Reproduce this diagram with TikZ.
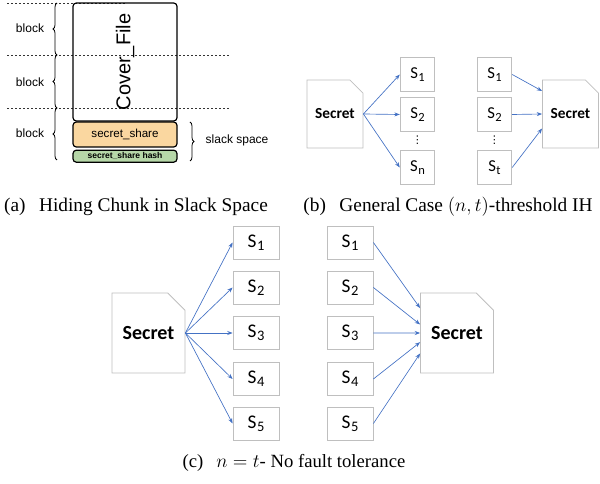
\documentclass[tikz,border=0pt]{standalone}
\usepackage{fontspec}
\setmainfont{Liberation Serif}
\newfontfamily\arialfont{Liberation Sans}
\newfontfamily\calibrifont{Carlito}
\newfontfamily\dotsfont{DejaVu Sans}
\usetikzlibrary{arrows.meta,positioning,shapes.misc,decorations.pathreplacing}
\definecolor{ShareFill}{HTML}{FAD7A0}
\definecolor{HashFill}{HTML}{B6D7A8}
\definecolor{ArrowBlue}{HTML}{4472C4}
\definecolor{BoxGray}{HTML}{BFBFBF}
\newcommand\shidx[1]{\kern0.03em\raisebox{-0.35ex}{\scalebox{0.75}{#1}}}

\begin{document}
\begin{tikzpicture}[x=0.75pt,y=-0.75pt,
  blocklabel/.style={font=\arialfont\fontsize{9}{11}\selectfont},
  bracestyle/.style={decorate,decoration={brace,amplitude=3pt},line width=0.6pt},
  sepline/.style={dashed,dash pattern=on 1.5pt off 1.5pt,line width=0.5pt,color=black!80},
  filebox/.style={draw,line width=0.9pt,rounded corners=2.5pt,minimum width=78pt,inner sep=0pt,align=center},
  sharebox/.style={filebox,fill=ShareFill,minimum height=18.75pt,font=\arialfont\fontsize{8.7}{10}\selectfont},
  hashbox/.style={filebox,fill=HashFill,minimum height=9pt,font=\arialfont\bfseries\fontsize{6.4}{7}\selectfont},
  docbox/.style={chamfered rectangle,chamfered rectangle corners=north east,draw=BoxGray,line width=0.6pt,inner sep=0pt,font=\calibrifont\bfseries},
  shbox/.style={draw=BoxGray,line width=0.6pt,inner sep=0pt,font=\calibrifont},
  vdots/.style={inner sep=0pt,font=\dotsfont\fontsize{8}{8}\selectfont},
  arr/.style={-{Stealth[length=4pt,width=3pt]},line width=0.5pt,color=ArrowBlue},
  caption/.style={font=\fontsize{14.5}{17}\selectfont}]
  \useasboundingbox (0,0) rectangle (600,484);
  % (a) hiding chunk in slack space
  \draw[sepline] (7,3) -- (127,3);
  \draw[sepline] (7,55) -- (230,55);
  \draw[sepline] (7,108) -- (230,108);
  \foreach \y/\t/\b [count=\i] in {28/3/55,82/55/108,133/108/160} {
    \node[blocklabel] (blk\i) at (30,\y) {block};
    \draw[bracestyle] (57,\b) -- (57,\t);
  }
  \node[filebox,minimum height=88.5pt] (cover) at (125,62) {\rotatebox{90}{\arialfont\fontsize{15}{17}\selectfont Cover\_File}};
  \node[sharebox] (share) at (125,134.5) {secret\_share};
  \node[hashbox,below=1.5pt of share] (hash) {secret\_share hash};
  \draw[bracestyle] (190,122) -- (190,161);
  \node[blocklabel,anchor=west] (slack) at (201,140) {slack space};
  \node[caption] (capA) at (136,207) {(a)\hspace{0.45em} Hiding Chunk in Slack Space};
  % (b) general case
  \tikzset{docb/.style={docbox,minimum width=42pt,minimum height=51pt,chamfered rectangle xsep=6pt,chamfered rectangle ysep=6pt,font=\calibrifont\bfseries\fontsize{11.5}{13}\selectfont},
    shb/.style={shbox,minimum width=26pt,minimum height=26pt,font=\calibrifont\fontsize{12.5}{14}\selectfont}}
  \node[docb] (secB) at (335,114) {Secret};
  \foreach \n/\y in {1/74.5,2/114.5,n/167.5} {
    \node[shb] (shB\n) at (417.5,\y) {S\shidx{\n}};
    \draw[arr] (secB.east) -- (shB\n.west);
  }
  \foreach \n/\y in {1/74.5,2/114.5,t/167.5}
    \node[shb] (tB\n) at (494.5,\y) {S\shidx{\n}};
  \node[vdots] (dotsB) at (417.5,140) {⋮};
  \node[vdots] (dotsT) at (494.5,140) {⋮};
  \node[docb] (recB) at (570.5,114) {Secret};
  \draw[arr] (tB1.east) -- (recB.141);
  \draw[arr] (tB2.east) -- (recB.west);
  \draw[arr] (tBt.east) -- (recB.207);
  \node[caption] (capB) at (448,207) {(b)\hspace{0.45em} General Case $(n,t)$-threshold IH};
  % (c) n = t
  \tikzset{docc/.style={docbox,minimum width=54.75pt,minimum height=60pt,chamfered rectangle xsep=8pt,chamfered rectangle ysep=8pt,font=\calibrifont\bfseries\fontsize{15}{17}\selectfont},
    shc/.style={shbox,minimum width=34.5pt,minimum height=24.75pt,font=\calibrifont\fontsize{14.5}{16}\selectfont}}
  \node[docc] (secC) at (148.5,333) {Secret};
  \foreach \i/\y in {1/242.5,2/287.5,3/333,4/379,5/423.5} {
    \node[shc] (shC\i) at (256,\y) {S\shidx{\i}};
    \node[shc] (tC\i) at (350,\y) {S\shidx{\i}};
    \draw[arr] (secC.east) -- (shC\i.west);
  }
  \node[docc] (recC) at (457,333) {Secret};
  \foreach \i/\a in {1/146,2/167,3/180,4/194,5/209}
    \draw[arr] (tC\i.east) -- (recC.\a);
  \node[caption,font=\fontsize{14}{16}\selectfont] (capC) at (294,463) {(c)\hspace{0.45em} $n=t$- No fault tolerance};
\end{tikzpicture}
\end{document}
